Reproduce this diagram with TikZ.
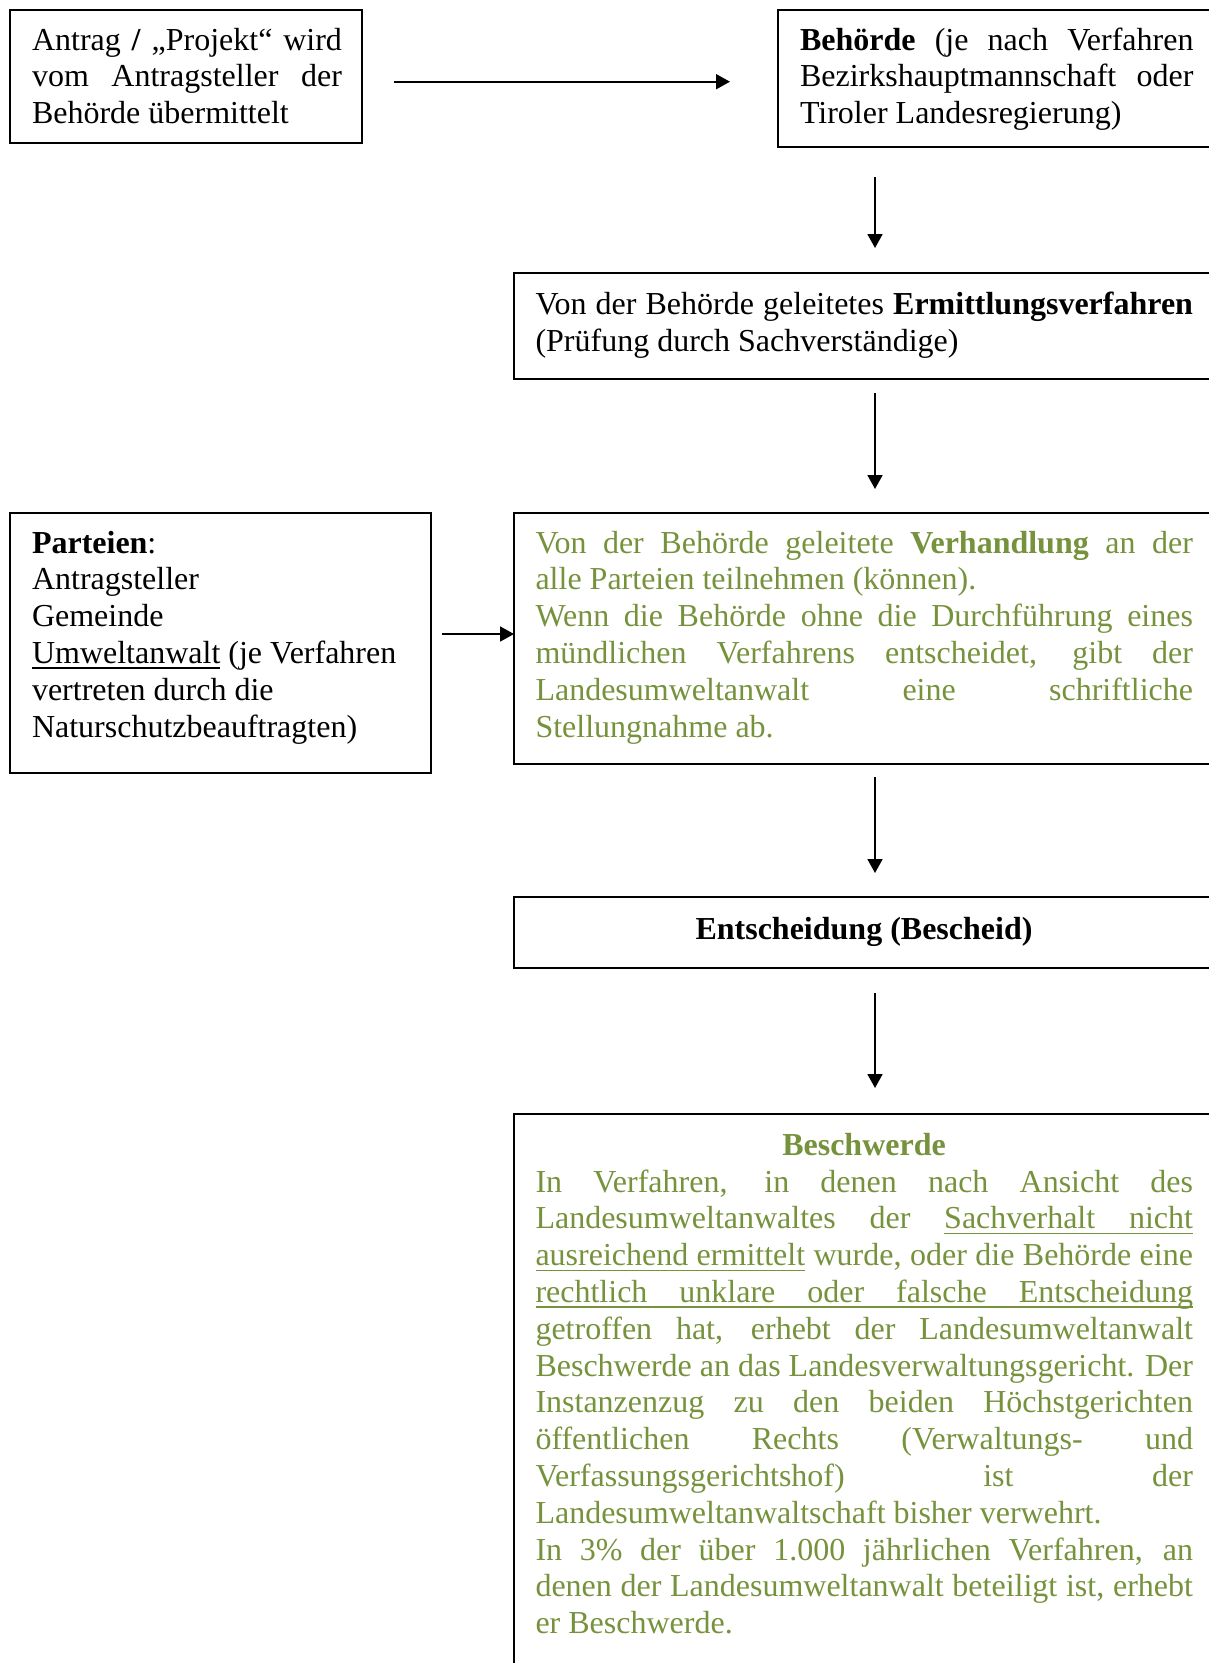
\documentclass[tikz,border=0pt]{standalone}
\usepackage{fontspec}
\setmainfont{Liberation Serif}
\usetikzlibrary{arrows.meta}
\definecolor{lgreen}{HTML}{76923C}
\newcommand{\jl}[1]{\makebox[\hsize][s]{\spaceskip=0pt\xspaceskip=0pt\relax #1}}
\newcommand{\uw}[1]{\leavevmode\setbox0\hbox{#1}\rlap{\vrule height -4pt depth 5.6pt width \wd0}\box0\relax}
\newcommand{\usp}{\leaders\hrule height -4pt depth 5.6pt\hskip\fontdimen2\font plus \fontdimen3\font minus \fontdimen4\font\relax}
\begin{document}
\begin{tikzpicture}[x=1pt,y=-1pt,
  box/.style={draw=black, line width=1.8pt, anchor=north west, inner sep=0pt, outer sep=0pt},
  txt/.style={anchor=base west, inner sep=0pt, outer sep=0pt, align=left,
    font=\fontsize{32}{36.8}\selectfont, execute at begin node={\setlength{\parindent}{0pt}\spaceskip=0pt\xspaceskip=0pt\relax}},
  ctxt/.style={anchor=base, inner sep=0pt, outer sep=0pt, font=\fontsize{32}{36.8}\selectfont},
  arr/.style={line width=1.8pt, -{Triangle[length=14pt,width=15pt]}}]
\clip (0,0) rectangle (1209,1663);
% boxes
\node[box, minimum width=352pt, minimum height=133pt] (b1) at (10,10) {};
\node[box, minimum width=437pt, minimum height=137pt] (b2) at (778,10) {};
\node[box, minimum width=701pt, minimum height=106pt] (b3) at (514,273) {};
\node[box, minimum width=421pt, minimum height=260pt] (bp) at (10,513) {};
\node[box, minimum width=701pt, minimum height=251pt] (b4) at (514,513) {};
\node[box, minimum width=701pt, minimum height=71pt] (b5) at (514,897) {};
\node[box, minimum width=701pt, minimum height=566pt] (b6) at (514,1114) {};
% texts
\node[txt, text width=310pt] (t1) at (32,50) {\jl{Antrag \textbf{/} „Projekt“ wird}\\\jl{vom Antragsteller der}\\Behörde übermittelt};
\node[txt, text width=393.5pt] (t2) at (800,50) {\jl{\textbf{Behörde} (je nach Verfahren}\\\jl{Bezirkshauptmannschaft oder}\\Tiroler Landesregierung)};
\node[txt, text width=657.5pt] (t3) at (535.5,314.5) {\jl{Von der Behörde geleitetes \textbf{Ermittlungsverfahren}}\\(Prüfung durch Sachverständige)};
\node[txt, text width=390pt] (tp) at (32,553) {\textbf{Parteien}:\\Antragsteller\\Gemeinde\\\uw{Umweltanwalt} (je Verfahren\\vertreten durch die\\Naturschutzbeauftragten)};
\node[txt, text width=657.5pt, text=lgreen] (t4) at (535.5,553) {\jl{Von der Behörde geleitete \textbf{Verhandlung} an der}\\alle Parteien teilnehmen (können).\\\jl{Wenn die Behörde ohne die Durchführung eines}\\\jl{mündlichen Verfahrens entscheidet, gibt der}\\\jl{Landesumweltanwalt eine schriftliche}\\Stellungnahme ab.};
\node[ctxt] (t5) at (864,939.5) {\textbf{Entscheidung (Bescheid)}};
\node[ctxt, text=lgreen] (t6h) at (864,1155) {\textbf{Beschwerde}};
\node[txt, text width=657.5pt, text=lgreen] (t6) at (535.5,1192) {\jl{In Verfahren, in denen nach Ansicht des}\\\jl{Landesumweltanwaltes der \uw{Sachverhalt}\usp\uw{nicht}}\\\jl{\uw{ausreichend}\usp\uw{ermittelt} wurde, oder die Behörde eine}\\\jl{\uw{rechtlich}\usp\uw{unklare}\usp\uw{oder}\usp\uw{falsche}\usp\uw{Entscheidung}}\\\jl{getroffen hat, erhebt der Landesumweltanwalt}\\\jl{Beschwerde an das Landesverwaltungsgericht. Der}\\\jl{Instanzenzug zu den beiden Höchstgerichten}\\\jl{öffentlichen Rechts (Verwaltungs- und}\\\jl{Verfassungsgerichtshof) ist der}\\Landesumweltanwaltschaft bisher verwehrt.\\\jl{In 3\% der über 1.000 jährlichen Verfahren, an}\\\jl{denen der Landesumweltanwalt beteiligt ist, erhebt}\\er Beschwerde.};
% arrows
\coordinate (r1) at (0,81.7);
\coordinate (rp) at (0,634);
\coordinate (c) at (875,0);
\draw[arr, shorten <=32pt, shorten >=48pt] (b1.east |- r1) -- (b2.west |- r1);
\draw[arr, shorten <=30pt, shorten >=25pt] (b2.south -| c) -- (b3.north -| c);
\draw[arr, shorten <=14pt, shorten >=24pt] (b3.south -| c) -- (b4.north -| c);
\draw[arr, shorten <=11pt] (bp.east |- rp) -- (b4.west |- rp);
\draw[arr, shorten <=13pt, shorten >=24pt] (b4.south -| c) -- (b5.north -| c);
\draw[arr, shorten <=25pt, shorten >=26pt] (b5.south -| c) -- (b6.north -| c);
\end{tikzpicture}
\end{document}
